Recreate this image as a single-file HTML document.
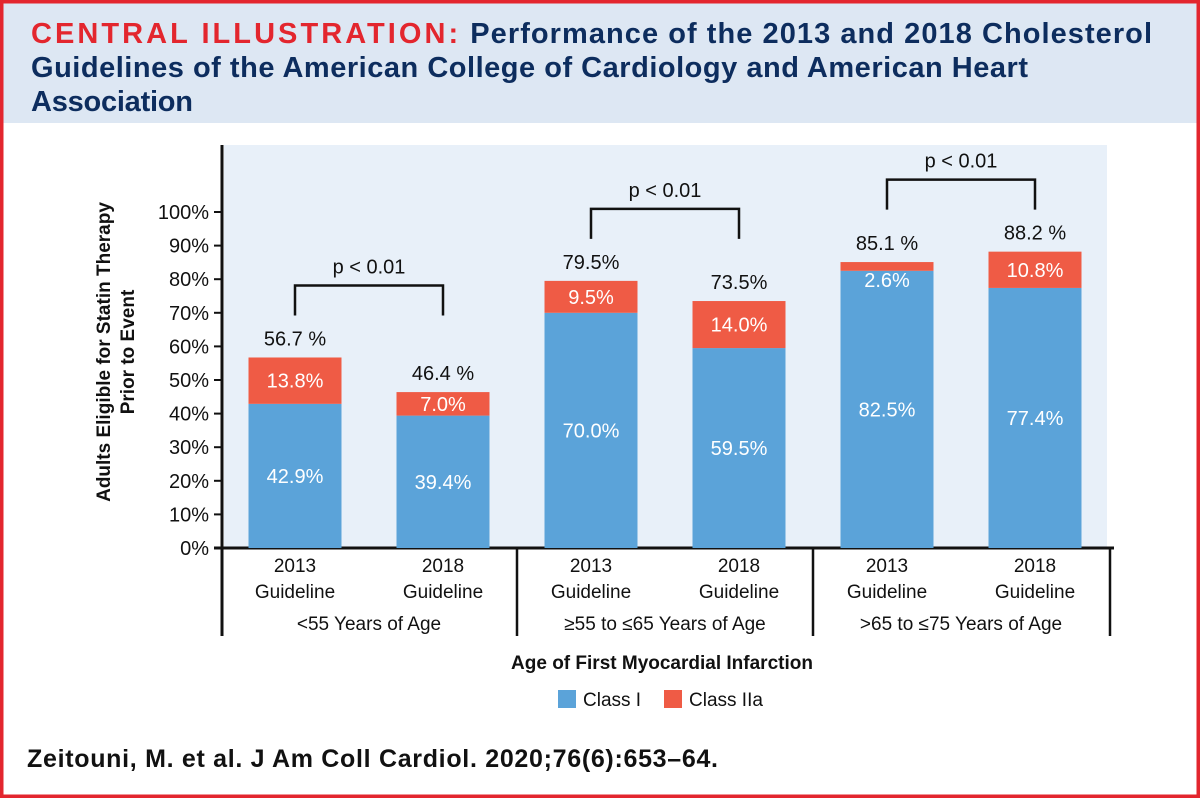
<!DOCTYPE html>
<html><head><meta charset="utf-8"><style>
html,body{margin:0;padding:0;background:#fff}
svg{display:block;font-family:"Liberation Sans",sans-serif}
</style></head><body>
<svg id="chart" width="1200" height="798" viewBox="0 0 1200 798">
<rect x="0" y="0" width="1200" height="798" fill="#fff"/>
<rect x="0" y="0" width="1200" height="123" fill="#dde7f3"/>
<rect x="1.5" y="1.5" width="1197" height="795" fill="none" stroke="#e3262e" stroke-width="4"/>
<text x="31" y="43" font-size="29" font-weight="bold" textLength="1121" lengthAdjust="spacing"><tspan fill="#e3262e" letter-spacing="2">CENTRAL ILLUSTRATION:</tspan><tspan fill="#0d2d5e"> Performance of the 2013 and 2018 Cholesterol</tspan></text>
<text x="31" y="77" font-size="29" font-weight="bold" fill="#0d2d5e" textLength="997" lengthAdjust="spacing">Guidelines of the American College of Cardiology and American Heart</text>
<text x="31" y="111" font-size="29" font-weight="bold" fill="#0d2d5e" textLength="162" lengthAdjust="spacing">Association</text>
<rect x="224" y="145" width="883" height="403" fill="#e8f0f9"/>
<g id="plot"></g>
<text x="662" y="669" font-size="19" font-weight="bold" text-anchor="middle" fill="#111">Age of First Myocardial Infarction</text>
<text transform="translate(110,352) rotate(-90)" font-size="19" font-weight="bold" text-anchor="middle" fill="#111"><tspan x="0" y="0">Adults Eligible for Statin Therapy</tspan><tspan x="0" y="24">Prior to Event</tspan></text>
<g>
<rect x="558" y="690" width="18" height="18" fill="#5ba3d9"/>
<text x="583" y="706" font-size="19" fill="#111">Class I</text>
<rect x="664" y="690" width="18" height="18" fill="#ef5b45"/>
<text x="689" y="706" font-size="19" fill="#111">Class IIa</text>
</g>
<text x="27" y="767" font-size="25" font-weight="bold" fill="#111" textLength="691" lengthAdjust="spacing">Zeitouni, M. et al. J Am Coll Cardiol. 2020;76(6):653–64.</text>
</svg>
<script>
const groups = ["<55 Years of Age", "≥55 to ≤65 Years of Age", ">65 to ≤75 Years of Age"];
const guidelines = ["2013", "2018"];
const classI = [42.9, 39.4, 70.0, 59.5, 82.5, 77.4];
const classIIa = [13.8, 7.0, 9.5, 14.0, 2.6, 10.8];
const totals = ["56.7 %", "46.4 %", "79.5%", "73.5%", "85.1 %", "88.2 %"];
const yTicks = [0, 10, 20, 30, 40, 50, 60, 70, 80, 90, 100];
const pLabels = ["p < 0.01", "p < 0.01", "p < 0.01"];

const NS = "http://www.w3.org/2000/svg";
const g = document.getElementById("plot");
const y = v => 548 - v * 3.36;
const xc = i => 295 + i * 148;
const BW = 93;
function mk(tag, attrs, text){const e=document.createElementNS(NS,tag);for(const k in attrs)e.setAttribute(k,attrs[k]);if(text!==undefined)e.textContent=text;g.appendChild(e);return e;}

let e = mk("line",{x1:222,y1:145,x2:222,y2:636,stroke:"#111","stroke-width":3});


yTicks.forEach(t=>{
  let tk = mk("line",{x1:214,x2:222,y1:y(t),y2:y(t),stroke:"#111","stroke-width":2});
  
  
  let lb = mk("text",{x:209,y:y(t)+7,"font-size":20,"text-anchor":"end",fill:"#111"},t+"%");
  
  
});
e = mk("line",{x1:214,y1:548,x2:1114,y2:548,stroke:"#111","stroke-width":3});


[517,813,1110].forEach(xx=>{
  let d = mk("line",{x1:xx,y1:548,x2:xx,y2:636,stroke:"#111","stroke-width":2.5});
  
  
});

classI.forEach((v,i)=>{
  const cx = xc(i), x0 = cx - BW/2;
  let b = mk("rect",{x:x0,y:y(v),width:BW,height:548-y(v),fill:"#5ba3d9"});
  
  
  const top = v + classIIa[i];
  let r = mk("rect",{x:x0,y:y(top),width:BW,height:y(v)-y(top),fill:"#ef5b45"});
  
  
  let l1 = mk("text",{x:cx,y:y(v/2)+7,"font-size":20,"text-anchor":"middle",fill:"#fff"},v.toFixed(1)+"%");
  
  
  const ly = classIIa[i] < 5 ? y(v) + 16 : y(v + classIIa[i]/2) + 7;
  let l2 = mk("text",{x:cx,y:ly,"font-size":20,"text-anchor":"middle",fill:"#fff"},classIIa[i].toFixed(1)+"%");
  
  
  let t = mk("text",{x:cx,y:y(top)-12,"font-size":20,"text-anchor":"middle",fill:"#111"},totals[i]);
  
  
  let a = mk("text",{x:cx,y:572,"font-size":19,"text-anchor":"middle",fill:"#111"},guidelines[i%2]);
  
  
  let a2 = mk("text",{x:cx,y:598,"font-size":19,"text-anchor":"middle",fill:"#111"},"Guideline");
  
  
});
groups.forEach((gname,k)=>{
  const c = (xc(2*k)+xc(2*k+1))/2;
  let gl = mk("text",{x:c,y:630,"font-size":19,"text-anchor":"middle",fill:"#111"},gname);
  
  
  const t1 = classI[2*k]+classIIa[2*k], t2 = classI[2*k+1]+classIIa[2*k+1];
  const top = y(Math.max(t1,t2)) - 72;
  const legY = y(Math.max(t1,t2)) - 42;
  let br = mk("path",{d:`M${xc(2*k)} ${legY} V${top} H${xc(2*k+1)} V${legY}`,fill:"none",stroke:"#111","stroke-width":2.5});
  
  
  let p = mk("text",{x:c,y:top-12,"font-size":20,"text-anchor":"middle",fill:"#111"},pLabels[k]);
  
  
});
</script>
</body></html>
